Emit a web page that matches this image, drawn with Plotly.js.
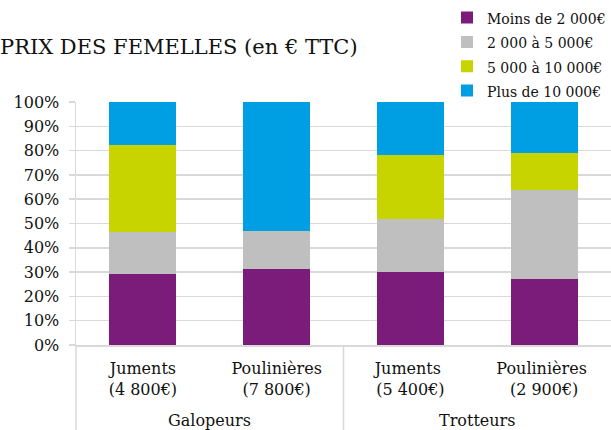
<!DOCTYPE html>
<html>
<head>
<meta charset="utf-8">
<script src="https://cdn.plot.ly/plotly-3.0.1.min.js"></script>
<style>html,body{margin:0;padding:0;background:#fff;}#chart{width:611px;height:430px;}</style>
</head>
<body>
<div id="chart"></div>
<script>
var categories = ["Juments<br>(4 800€)", "Poulinières<br>(7 800€)", "Juments <br>(5 400€)", "Poulinières <br>(2 900€)"];
var groups = ["Galopeurs", "Trotteurs"];
var seriesNames = ["Moins de 2 000€", "2 000 à 5 000€", "5 000 à 10 000€", "Plus de 10 000€"];
var moins2000 = [29.3, 31.1, 30.2, 27.2];
var de2000a5000 = [17.3, 15.9, 21.7, 36.5];
var de5000a10000 = [35.7, 0, 26.3, 15.2];
var plus10000 = [17.7, 53.0, 21.8, 21.1];
var yTicks = [0, 10, 20, 30, 40, 50, 60, 70, 80, 90, 100];

var colors = ["#7B1C7A", "#BFBFBF", "#C8D400", "#009FE3"];
var values = [moins2000, de2000a5000, de5000a10000, plus10000];
var FONT = "DejaVu Serif";

var traces = values.map(function (v, i) {
  return {
    type: "bar",
    name: '<span style="font-size:14px">' + seriesNames[i] + '</span>',
    x: categories,
    y: v,
    marker: {color: colors[i], line: {width: 0}},
    hoverinfo: "name+y"
  };
});

var layout = {
  width: 611, height: 430,
  margin: {l: 76, r: 0, t: 102, b: 85, autoexpand: false},
  barmode: "stack",
  bargap: 0.5,
  paper_bgcolor: "#fff",
  plot_bgcolor: "#fff",
  font: {family: FONT, color: "#222", size: 16},
  title: {
    text: "PRIX DES FEMELLES (en € TTC)",
    font: {family: FONT, size: 21, color: "#111"},
    xref: "container", x: 0, xanchor: "left",
    yref: "container", y: 1 - 47 / 430, yanchor: "middle"
  },
  showlegend: true,
  legend: {
    traceorder: "normal",
    x: 1, xanchor: "right",
    y: 1.418, yanchor: "top",
    font: {family: FONT, size: 16.4, color: "#111"},
    bgcolor: "rgba(0,0,0,0)",
    itemwidth: 30,
    tracegroupgap: 0
  },
  xaxis: {
    type: "category",
    tickfont: {family: FONT, size: 16, color: "#111"},
    showline: true, linecolor: "#D9D9D9", linewidth: 1.5,
    ticks: "", showgrid: false,
    ticklabelstandoff: 8,
    fixedrange: true
  },
  yaxis: {
    range: [0, 100],
    tickvals: yTicks,
    ticktext: yTicks.map(function (t) { return t + "%"; }),
    tickfont: {family: FONT, size: 16, color: "#111"},
    showgrid: true, gridcolor: "#D9D9D9", gridwidth: 1.5,
    showline: true, linecolor: "#D9D9D9", linewidth: 1.5,
    ticks: "outside", ticklen: 6, tickcolor: "#D9D9D9", tickwidth: 1.5,
    ticklabelstandoff: 6,
    zeroline: false,
    fixedrange: true
  },
  shapes: [
    {type: "line", xref: "paper", yref: "paper", x0: 0, x1: 0, y0: 0, y1: -0.36, line: {color: "#D9D9D9", width: 1.5}},
    {type: "line", xref: "x", yref: "paper", x0: 1.5, x1: 1.5, y0: 0, y1: -0.36, line: {color: "#D9D9D9", width: 1.5}}
  ],
  annotations: [
    {text: groups[0], xref: "x", yref: "paper", x: 0.5, y: -0.31, yanchor: "middle", showarrow: false, font: {family: FONT, size: 16, color: "#111"}},
    {text: groups[1], xref: "x", yref: "paper", x: 2.5, y: -0.31, yanchor: "middle", showarrow: false, font: {family: FONT, size: 16, color: "#111"}}
  ]
};

Plotly.newPlot("chart", traces, layout, {displayModeBar: false, staticPlot: true});
</script>
</body>
</html>
